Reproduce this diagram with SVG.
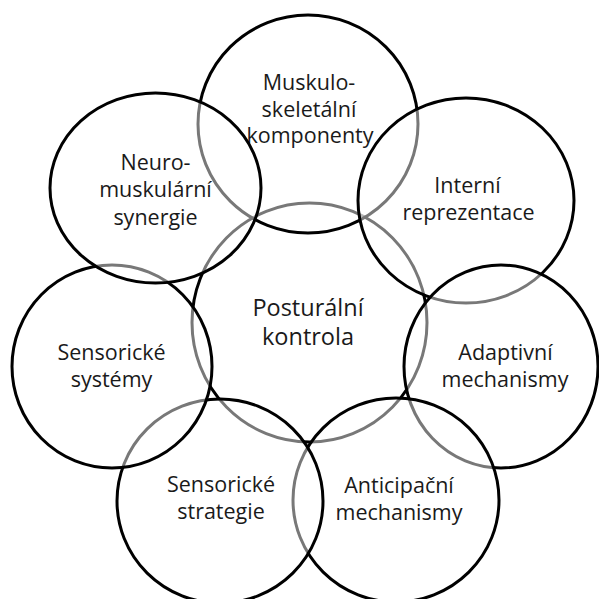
<svg xmlns="http://www.w3.org/2000/svg" width="599" height="599" viewBox="0 0 599 599">
  <style>
    .ring { fill: #ffffff; fill-opacity: 0.47; stroke: #000000; stroke-width: 3; }
    .label { font-family: "Open Sans", "Noto Sans", "Liberation Sans", sans-serif; font-size: 21.5px; fill: #1a1a1a; text-anchor: middle; }
    .hub { font-size: 23.5px; }
  </style>
  <rect width="599" height="599" fill="#ffffff"/>
  <!-- no connectors: the topics are linked by overlapping rings -->
  <g id="connectors"></g>

  <!-- hub, drawn first so every surrounding ring veils its outline -->
  <g id="node-posturalni-kontrola">
    <ellipse class="ring" cx="309.5" cy="322.5" rx="117.5" ry="119.5"/>
    <text class="label hub" x="308" y="316">Posturální</text>
    <text class="label hub" x="308" y="345">kontrola</text>
  </g>

  <g id="node-muskuloskeletalni">
    <ellipse class="ring" cx="308" cy="124" rx="110" ry="109"/>
    <text class="label" x="309" y="90">Muskulo-</text>
    <text class="label" x="309" y="116.5">skeletální</text>
    <text class="label" x="310" y="143">komponenty</text>
  </g>

  <g id="node-interni-reprezentace">
    <ellipse class="ring" cx="466" cy="200.5" rx="108" ry="102.5"/>
    <text class="label" x="467.5" y="193">Interní</text>
    <text class="label" x="468.5" y="220">reprezentace</text>
  </g>

  <g id="node-adaptivni-mechanismy">
    <ellipse class="ring" cx="501" cy="366.5" rx="97" ry="101.5"/>
    <text class="label" x="505.5" y="360">Adaptivní</text>
    <text class="label" x="505" y="387">mechanismy</text>
  </g>

  <g id="node-anticipacni-mechanismy">
    <ellipse class="ring" cx="396" cy="500" rx="103" ry="102"/>
    <text class="label" x="399" y="493">Anticipační</text>
    <text class="label" x="399" y="520">mechanismy</text>
  </g>

  <g id="node-sensoricke-strategie">
    <ellipse class="ring" cx="220" cy="501" rx="103" ry="102"/>
    <text class="label" x="221" y="492">Sensorické</text>
    <text class="label" x="221" y="519">strategie</text>
  </g>

  <g id="node-sensoricke-systemy">
    <ellipse class="ring" cx="112" cy="366.5" rx="100" ry="101.5"/>
    <text class="label" x="111.5" y="360">Sensorické</text>
    <text class="label" x="111.5" y="387">systémy</text>
  </g>

  <g id="node-neuromuskularni-synergie">
    <ellipse class="ring" cx="155.5" cy="188" rx="105.5" ry="95"/>
    <text class="label" x="155.5" y="169.5">Neuro-</text>
    <text class="label" x="155.5" y="197">muskulární</text>
    <text class="label" x="155.5" y="225">synergie</text>
  </g>
</svg>
